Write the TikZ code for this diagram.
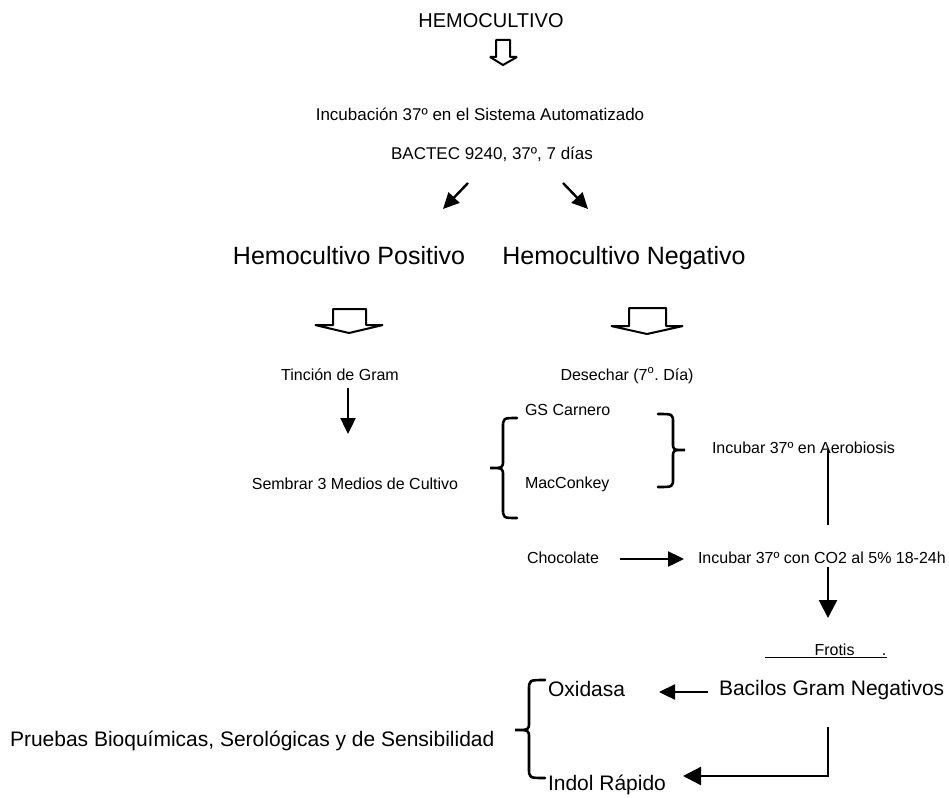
\documentclass[tikz,border=0pt]{standalone}
\usepackage{fontspec}
\setmainfont{Liberation Sans}
\usetikzlibrary{arrows.meta}
\newcommand{\fsz}[1]{\fontsize{#1}{#1}\selectfont}
\frenchspacing
\begin{document}
\begin{tikzpicture}[x=1pt,y=-1pt,
  txt/.style={inner sep=0pt,outer sep=0pt,anchor=base},
  txtw/.style={inner sep=0pt,outer sep=0pt,anchor=base west},
  arr/.style={line width=2.4pt,-{Triangle[length=16pt,width=15pt]}},
  bigarr/.style={line width=2.4pt,-{Triangle[length=18pt,width=18pt]}},
  plain/.style={line width=2.4pt},
  hollow/.style={draw=black,fill=white,line width=2pt,line join=bevel},
  bracestyle/.style={line width=2.6pt,line cap=round}]
\useasboundingbox (0,0) rectangle (949,797);
% texts
\node[txt] (hemo) at (491,28) {\fsz{20}HEMOCULTIVO};
\node[txt] (incub) at (480,121) {\fsz{17}Incubación 37º en el Sistema Automatizado};
\node[txt] (bactec) at (492,159) {\fsz{17}BACTEC 9240, 37º, 7 días};
\node[txt] (pos) at (349,264) {\fsz{25}Hemocultivo Positivo};
\node[txt] (neg) at (624,264) {\fsz{25}Hemocultivo Negativo};
\node[txt] (tincion) at (340,380) {\fsz{16}Tinción de Gram};
\node[txt] (desechar) at (627,380) {\fsz{16}Desechar (7\textsuperscript{o}. Día)};
\node[txt] (sembrar) at (355,489) {\fsz{16}Sembrar 3 Medios de Cultivo};
\node[txtw] (gs) at (525,415) {\fsz{16}GS Carnero};
\node[txtw] (mac) at (525,488) {\fsz{16}MacConkey};
\node[txtw] (aero) at (712,453) {\fsz{16}Incubar 37º en Aerobiosis};
\node[txtw] (choc) at (527,563) {\fsz{16}Chocolate};
\node[txtw] (co2) at (698,563) {\fsz{16}Incubar 37º con CO2 al 5\% 18-24h};
\node[txt] (frotis) at (834.5,655) {\fsz{16}Frotis};
\node[txt] (dot) at (884,655) {\fsz{16}.};
\node[txtw] (bacilos) at (719,695) {\fsz{21}Bacilos Gram Negativos};
\node[txtw] (oxidasa) at (548,696) {\fsz{21}Oxidasa};
\node[txtw] (indol) at (548,790) {\fsz{21}Indol Rápido};
\node[txtw] (pruebas) at (10,746) {\fsz{21}Pruebas Bioquímicas, Serológicas y de Sensibilidad};
% hollow block arrows
\draw[hollow] (496,40) -- (510,40) -- (510,57) -- (517,57) -- (503,65) -- (490,57) -- (496,57) -- cycle;
\draw[hollow] (333,309) -- (366,309) -- (366,325) -- (383,325) -- (349,333) -- (315,325) -- (333,325) -- cycle;
\draw[hollow] (629,308) -- (666,308) -- (666,326) -- (683,326) -- (647,334) -- (611,326) -- (629,326) -- cycle;
% connector end points
\coordinate (d1s) at (468,183); \coordinate (d1e) at (443,209);
\coordinate (d2s) at (563,183); \coordinate (d2e) at (588,209);
\coordinate (t1) at (348,388); \coordinate (t2) at (348,434);
\coordinate (a1) at (828,450); \coordinate (a2) at (828,525);
\coordinate (c1) at (620,559); \coordinate (c2) at (684,559);
\coordinate (k1) at (828,567); \coordinate (k2) at (828,618);
\coordinate (f1) at (765,657); \coordinate (f2) at (887,657);
\coordinate (b1) at (708,692); \coordinate (b2) at (659,692);
\coordinate (e1) at (828,727); \coordinate (e2) at (683,776);
\draw[arr] (d1s) -- (d1e);
\draw[arr] (d2s) -- (d2e);
\draw[arr] (t1) -- (t2);
\draw[plain] (a1) -- (a2);
\draw[arr] (c1) -- (c2);
\draw[bigarr] (k1) -- (k2);
\draw[line width=1pt] (f1) -- (f2);
\draw[arr] (b1) -- (b2);
\draw[bigarr] (e1) |- (e2);
% braces
% left brace (GS Carnero / MacConkey)
\draw[bracestyle] (517,418) .. controls (503,418) and (503,418) .. (503,428) -- (503,460)
  .. controls (503,468) and (503,468) .. (490,468)
  .. controls (503,468) and (503,468) .. (503,476) -- (503,508)
  .. controls (503,518) and (503,518) .. (517,518);
% right brace
\draw[bracestyle] (658,414) .. controls (673,414) and (673,414) .. (673,423) -- (673,443)
  .. controls (673,450) and (673,450) .. (685,450)
  .. controls (673,450) and (673,450) .. (673,457) -- (673,478)
  .. controls (673,487) and (673,487) .. (658,487);
% bottom brace
\draw[bracestyle] (545,680) .. controls (529,680) and (529,680) .. (529,690) -- (529,722)
  .. controls (529,730) and (529,730) .. (515,730)
  .. controls (529,730) and (529,730) .. (529,738) -- (529,768)
  .. controls (529,778) and (529,778) .. (545,778);
\end{tikzpicture}
\end{document}
